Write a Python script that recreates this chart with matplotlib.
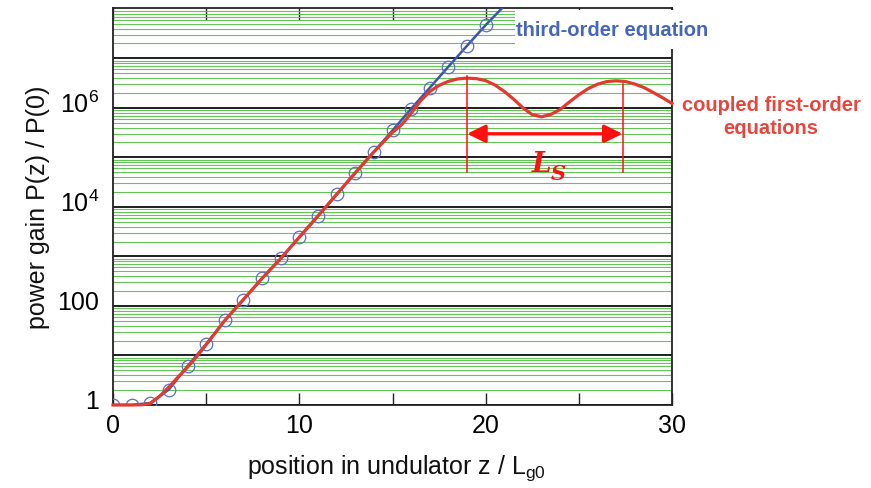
import math
import matplotlib.pyplot as plt
import matplotlib.patches as mpatches
import matplotlib.transforms as mtransforms
from matplotlib.ticker import FixedLocator, LogLocator, FuncFormatter, NullFormatter

plt.rcParams['font.family'] = 'Liberation Sans'
plt.rcParams['mathtext.fontset'] = 'custom'
plt.rcParams['mathtext.rm'] = 'Liberation Sans'
plt.rcParams['mathtext.it'] = 'Liberation Sans:italic'
plt.rcParams['mathtext.bf'] = 'Liberation Sans:bold'

# third-order equation, sampled at integer z / Lg0
z_third = [0, 1, 2, 3, 4, 5, 6, 7, 8, 9, 10, 11, 12, 13, 14, 15, 16, 17, 18, 19, 20, 21]
gain_third = [1.0, 1.0, 1.1, 2.05, 6.1, 17, 51, 135, 360, 910, 2450, 6550, 17900,
              48800, 1.30e5, 3.5e5, 9.6e5, 2.55e6, 6.8e6, 1.8e7, 4.7e7, 1.15e8]

# coupled first-order equations (saturation + synchrotron oscillation)
z_coupled = [0, 0.5, 1, 1.5, 2, 2.5, 3, 3.5, 4, 4.5, 5, 5.5, 6, 7, 8, 9, 10, 11, 12,
             13, 14, 15, 15.5, 16, 16.5, 17, 17.5, 18, 18.5, 19, 19.5, 20, 20.5, 21,
             21.5, 22, 22.5, 23, 23.5, 24, 24.5, 25, 25.5, 26, 26.5, 27, 27.5, 28,
             28.5, 29, 29.5, 30]
gain_coupled = [1.0, 1.0, 1.0, 1.01, 1.07, 1.5, 2.3, 3.7, 5.8, 9.6, 16.5, 29, 51, 135,
                360, 910, 2450, 6550, 17900, 48800, 1.29e5, 3.2e5, 4.6e5, 7.8e5,
                1.38e6, 2.15e6, 2.85e6, 3.44e6, 3.85e6, 3.99e6, 3.9e6, 3.55e6, 2.9e6,
                2.15e6, 1.5e6, 1.0e6, 7.3e5, 6.6e5, 7.4e5, 9.3e5, 1.32e6, 1.84e6,
                2.45e6, 3.0e6, 3.4e6, 3.52e6, 3.41e6, 3.03e6, 2.57e6, 2.04e6, 1.6e6,
                1.23e6]

# synchrotron period marker
ls_start, ls_end = 19.0, 27.35

fig = plt.figure(figsize=(8.71, 4.89), dpi=100)
ax = fig.add_axes([113 / 871, 83 / 489, 559 / 871, 397 / 489])

ax.plot(z_third, gain_third, color='#3b55a8', lw=1.8, zorder=3)
ax.plot(z_third, gain_third, ls='none', marker='o', ms=9, mfc='none',
        mec='#5b6fc2', mew=0.9, zorder=3, markevery=slice(0, 21))
ax.plot(z_coupled, gain_coupled, color='#e23a2e', lw=2.3, zorder=4, clip_on=False)

ax.set_yscale('log')
ax.set_xlim(0, 30)
ax.set_ylim(1, 1.04e8)

decades = [10.0 ** k for k in range(8)]
ax.yaxis.set_major_locator(FixedLocator(decades))
ax.yaxis.set_minor_locator(LogLocator(base=10, subs=range(2, 10), numticks=50))
ax.yaxis.set_minor_formatter(NullFormatter())
ylabels = {0: '1', 2: '100', 4: r'$10^4$', 6: r'$10^6$'}
ax.yaxis.set_major_formatter(FuncFormatter(
    lambda v, p: ylabels.get(int(round(math.log10(v))), '')))

ax.xaxis.set_major_locator(FixedLocator([0, 10, 20, 30]))
ax.xaxis.set_minor_locator(FixedLocator([5, 15, 25]))

ax.yaxis.grid(True, which='major', color='#1e1e1e', lw=1.4)
ax.yaxis.grid(True, which='minor', color='#63c657', lw=0.8)
ax.set_axisbelow(True)

ax.tick_params(axis='x', which='both', direction='in', top=True, length=8.5,
               width=1.0, labelsize=18, pad=6, color='#222222')
ax.tick_params(axis='y', which='both', length=0, labelsize=18, pad=10)
for s in ax.spines.values():
    s.set_linewidth(1.3)
    s.set_color('#222222')

# y labels sit a little above their gridlines
lift = mtransforms.ScaledTranslation(0, 4.5 / 72, fig.dpi_scale_trans)
for lab in ax.get_yticklabels():
    lab.set_transform(lab.get_transform() + lift)

ax.set_xlabel(r'position in undulator z / L$_{\rm g0}$', fontsize=18, color='#111111')
ax.xaxis.set_label_coords(0.507, -0.12)
ax.set_ylabel('power gain P(z) / P(0)', fontsize=18, color='#111111')
ax.yaxis.set_label_coords(-0.113, 0.5)

# L_S annotation
ax.plot([ls_start, ls_start], [5.1e4, 4.4e6], color='#ff1010', lw=1.1, zorder=5)
ax.plot([ls_end, ls_end], [5.1e4, 3.0e6], color='#ff1010', lw=1.1, zorder=5)
ax.annotate('', xy=(ls_start, 3.0e5), xytext=(ls_end, 3.0e5),
            arrowprops=dict(arrowstyle='<|-|>,head_length=0.55,head_width=0.27',
                            mutation_scale=20, color='#ff1010', lw=2.4,
                            shrinkA=0, shrinkB=0), zorder=5)
ax.text(22.47, 5.3e4, 'L', family='DejaVu Serif', style='italic', weight='bold',
        fontsize=20, color='#ff1010', ha='left', va='baseline', zorder=5)
ax.text(23.5, 3.6e4, 'S', family='DejaVu Serif', style='italic', weight='bold',
        fontsize=15, color='#ff1010', ha='left', va='baseline', zorder=5)

# white backing behind the upper legend text
fig.patches.append(mpatches.Rectangle((515 / 871, 1 - 50 / 489), 200 / 871, 39 / 489,
                                      transform=fig.transFigure, facecolor='white',
                                      edgecolor='none', zorder=1))
fig.text(516 / 871, 1 - 30 / 489, 'third-order equation', fontsize=14.5,
         weight='bold', color='#4666bb', ha='left', va='center', zorder=2)
fig.text(771 / 871, 1 - 117 / 489, 'coupled first-order\nequations', fontsize=14.5,
         weight='bold', color='#e8463c', ha='center', va='center',
         multialignment='center', linespacing=1.25, zorder=2)

fig.savefig('out.png', dpi=100)
